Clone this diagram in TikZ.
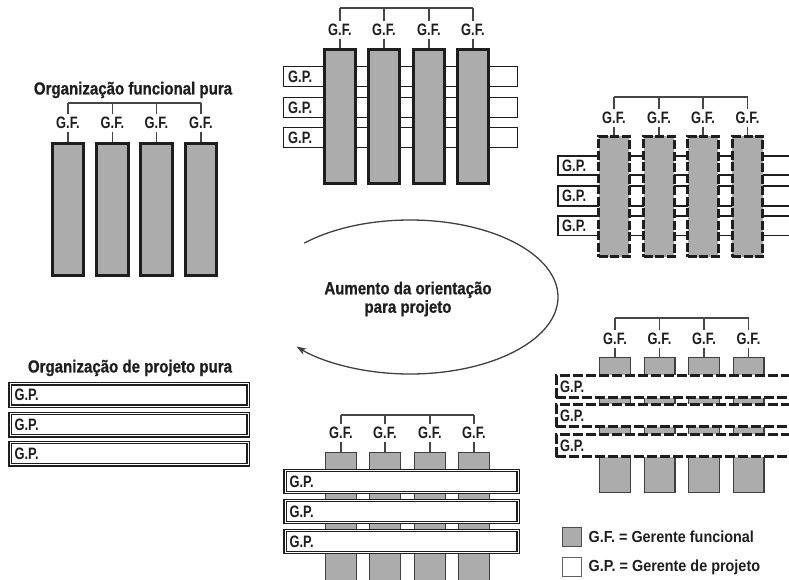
\documentclass[tikz,border=0pt]{standalone}
\usepackage{fontspec}
\setmainfont{Liberation Sans}
\newfontfamily\lblfont{Liberation Sans}[FakeStretch=0.78]
\newfontfamily\ttlfont{Liberation Sans}[FakeStretch=0.86, FakeBold=0.8]
\newfontfamily\legfont{Liberation Sans}[FakeStretch=0.9]
\usetikzlibrary{arrows.meta}

\definecolor{barfill}{RGB}{172,172,172}
\definecolor{ink}{RGB}{30,30,30}
\definecolor{brkcol}{RGB}{70,70,70}

\tikzset{
  fbar/.style={draw=ink, line width=2.8pt, fill=barfill, inner sep=0pt},
  dbar/.style={fbar, dash pattern=on 9pt off 2.5pt},
  sbar/.style={draw=ink!85, line width=1.2pt, fill=barfill, inner sep=0pt},
  gpthin/.style={draw=ink, line width=1.3pt, fill=white, inner sep=0pt},
  gpmid/.style={draw=ink, line width=1.6pt, fill=white, inner sep=0pt},
  gpdash/.style={draw=ink, line width=2.6pt, fill=white, inner sep=0pt, dash pattern=on 10pt off 3pt},
  gpdbl/.style={draw=ink, line width=1.3pt, double=white, double distance=1pt, fill=white, inner sep=0pt},
  gflbl/.style={font={\lblfont\bfseries\fontsize{16.5}{18}\selectfont}, text=ink, inner sep=2.5pt},
  gplbl/.style={font={\lblfont\bfseries\fontsize{16.5}{18}\selectfont}, text=ink, inner sep=1pt, anchor=west},
  ttl/.style={font={\ttlfont\bfseries\fontsize{17.5}{18.5}\selectfont}, text=ink},
  leg/.style={font={\legfont\bfseries\fontsize{16}{18}\selectfont}, text=ink, inner sep=1.5pt, anchor=west},
  brk/.style={draw=brkcol, line width=1.3pt},
  cyc/.style={draw=ink!85, line width=1.3pt},
}

% row of functional bars: prefix, style, x list, centre y, width, height
\newcommand\barrow[6]{%
  \foreach \xx [count=\i] in {#3}
    \node[#2, minimum width=#5pt, minimum height=#6pt] (#1b\i) at (\xx,#4) {};
}
% G.F. labels with their bracket: prefix, x list, label y, bracket y
\newcommand\gfhead[4]{%
  \coordinate (#1br) at (0,#4);
  \foreach \xx [count=\i] in {#2} {
    \node[gflbl] (#1g\i) at (\xx,#3) {G.F.};
    \draw[brk] (#1g\i.north) -- (#1g\i.north |- #1br);
    \draw[brk] (#1g\i.south) -- (#1b\i.north);
  }
  \draw[brk] (#1g1.north |- #1br) -- (#1g4.north |- #1br);
}
% project rows: prefix, style, centre x, width, height, y list
\newcommand\gprows[6]{%
  \foreach \yy [count=\i] in {#6} {
    \node[#2, minimum width=#4pt, minimum height=#5pt] (#1p\i) at (#3,\yy) {};
    \node[gplbl] (#1l\i) at ([xshift=4pt]#1p\i.west) {G.P.};
  }
}

\begin{document}
\begin{tikzpicture}[x=1pt, y=-1pt]
\useasboundingbox (0,0) rectangle (789,579);
\clip (0,0) rectangle (789,579);

% pure functional organisation
\node[ttl] (tfun) at (133,90) {Organização funcional pura};
\barrow{A}{fbar}{68,112.5,156.5,201}{209.5}{31.4}{132.4}
\gfhead{A}{68,112.5,156.5,201}{123}{103}

% weak matrix
\gprows{B}{gpthin}{400.5}{233.7}{19.7}{76.5,107.5,137.5}
\barrow{B}{fbar}{340,384,429,473}{116.5}{31.4}{134.4}
\gfhead{B}{340,384,429,473}{30}{8}

% balanced matrix
\gprows{C}{gpmid}{678.5}{241.4}{19.5}{165.5,196,225.75}
\barrow{C}{dbar}{614,659,703,747.5}{196.5}{30.4}{120.4}
\gfhead{C}{614,659,703,747.5}{118}{97}

% strong matrix
\barrow{D}{sbar}{615,659.5,704,748.5}{425}{30.8}{134.8}
\gprows{D}{gpdash}{677.5}{242.4}{22.4}{386.5,415.5,445.5}
\gfhead{D}{615,659.5,704,748.5}{339}{318}

% project-oriented matrix
\barrow{E}{sbar}{341,385,430,474}{521}{30.8}{136.8}
\gprows{E}{gpdbl}{401.5}{233}{22}{481.5,511.5,541.5}
\gfhead{E}{341,385,430,474}{433}{415}

% pure project organisation
\node[ttl] (tproj) at (130,368) {Organização de projeto pura};
\gprows{F}{gpdbl}{129}{238}{22.4}{395,424.5,453.5}

% central loop
\node[ttl, align=center] (mid) at (408,299) {Aumento da orientação\\para projeto};
\coordinate (loopc) at (410,297);
\draw[cyc, -{Stealth[length=10pt, width=7pt]}] (loopc) ++(-135.6:148 and 77)
  arc[start angle=-135.6, end angle=140, x radius=148, y radius=77];

% legend
\node[draw=ink!80, line width=1pt, fill=barfill, minimum size=19pt, inner sep=0pt] (lgf) at (572,537) {};
\node[draw=ink!70, line width=1pt, fill=white, minimum size=19pt, inner sep=0pt] (lgp) at (572,567) {};
\node[leg] (tgf) at (587,537) {G.F. = Gerente funcional};
\node[leg] (tgp) at (587,567) {G.P. = Gerente de projeto};
\end{tikzpicture}
\end{document}
